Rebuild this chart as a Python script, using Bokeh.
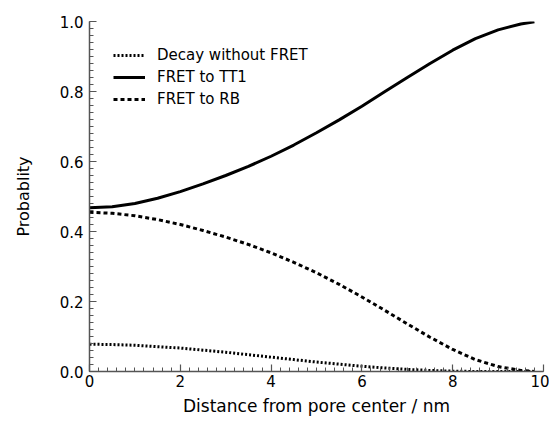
import numpy as np
from bokeh.plotting import figure
from bokeh.models import FixedTicker, Range1d
from bokeh.embed import file_html
from bokeh.resources import INLINE

# Distance from pore center (nm)
distance = [0, 0.5, 1, 1.5, 2, 2.5, 3, 3.5, 4, 4.5, 5, 5.5, 6, 6.5, 7, 7.5, 8, 8.5, 9, 9.5, 9.8]
# Probabilities
decay_no_fret = [0.078, 0.077, 0.075, 0.071, 0.067, 0.061, 0.055, 0.048, 0.041, 0.034, 0.027,
                 0.021, 0.015, 0.010, 0.006, 0.003, 0.001, 0.0, 0.0, 0.0, 0.0]
fret_tt1 = [0.468, 0.471, 0.480, 0.495, 0.514, 0.536, 0.560, 0.586, 0.615, 0.647, 0.682,
            0.719, 0.758, 0.799, 0.840, 0.880, 0.918, 0.951, 0.976, 0.993, 0.999]
fret_rb = [0.455, 0.452, 0.445, 0.434, 0.420, 0.403, 0.384, 0.363, 0.339, 0.312, 0.282,
           0.249, 0.213, 0.175, 0.136, 0.098, 0.063, 0.034, 0.014, 0.003, 0.0]

x_ticks = [0, 2, 4, 6, 8, 10]
y_ticks = [0.0, 0.2, 0.4, 0.6, 0.8, 1.0]

FONT = "DejaVu Sans"

p = figure(width=549, height=427, output_backend="svg", toolbar_location=None,
           x_range=Range1d(0, 10), y_range=Range1d(0, 1.0),
           min_border_left=89, min_border_right=6, min_border_top=21, min_border_bottom=56)
p.outline_line_color = None
p.xgrid.visible = False
p.ygrid.visible = False
p.background_fill_color = "white"
p.border_fill_color = "white"

p.line(distance, decay_no_fret, line_color="black", line_width=3, line_dash="2 2",
       legend_label="Decay without FRET")
p.line(distance, fret_tt1, line_color="black", line_width=3,
       legend_label="FRET to TT1")
p.line(distance, fret_rb, line_color="black", line_width=3, line_dash="4 3",
       legend_label="FRET to RB")

p.xaxis.ticker = FixedTicker(ticks=x_ticks, minor_ticks=list(np.round(np.arange(0, 10.001, 0.2), 2)))
p.yaxis.ticker = FixedTicker(ticks=y_ticks, minor_ticks=list(np.round(np.arange(0, 1.0001, 0.02), 3)))
p.xaxis.major_label_overrides = {t: str(t) for t in x_ticks}
p.yaxis.major_label_overrides = {t: f"{t:.1f}" for t in y_ticks}

for ax in (p.xaxis[0], p.yaxis[0]):
    ax.axis_line_color = "#555555"
    ax.axis_line_width = 1.5
    ax.major_tick_line_color = "#555555"
    ax.minor_tick_line_color = "#555555"
    ax.major_tick_line_width = 1.2
    ax.minor_tick_line_width = 1
    ax.major_tick_in = 7
    ax.major_tick_out = 0
    ax.minor_tick_in = 4
    ax.minor_tick_out = 0
    ax.major_label_text_font = FONT
    ax.major_label_text_font_size = "15px"
    ax.major_label_text_color = "black"
    ax.axis_label_text_font = FONT
    ax.axis_label_text_font_style = "normal"
    ax.axis_label_text_color = "black"

p.xaxis.axis_label = "Distance from pore center / nm"
p.xaxis.axis_label_text_font_size = "17px"
p.xaxis.major_label_standoff = 3
p.xaxis.axis_label_standoff = 6

p.yaxis.axis_label = "Probablity"
p.yaxis.axis_label_text_font_size = "16px"
p.yaxis.major_label_standoff = 6
p.yaxis.axis_label_standoff = 24

lg = p.legend[0]
lg.location = "top_left"
lg.margin = 24
lg.padding = 0
lg.border_line_color = None
lg.background_fill_alpha = 0
lg.label_text_font = FONT
lg.label_text_font_size = "15px"
lg.label_text_color = "black"
lg.glyph_width = 32
lg.glyph_height = 20
lg.label_height = 20
lg.spacing = 2
lg.label_standoff = 12

open("out.html", "w").write(file_html(p, INLINE))
